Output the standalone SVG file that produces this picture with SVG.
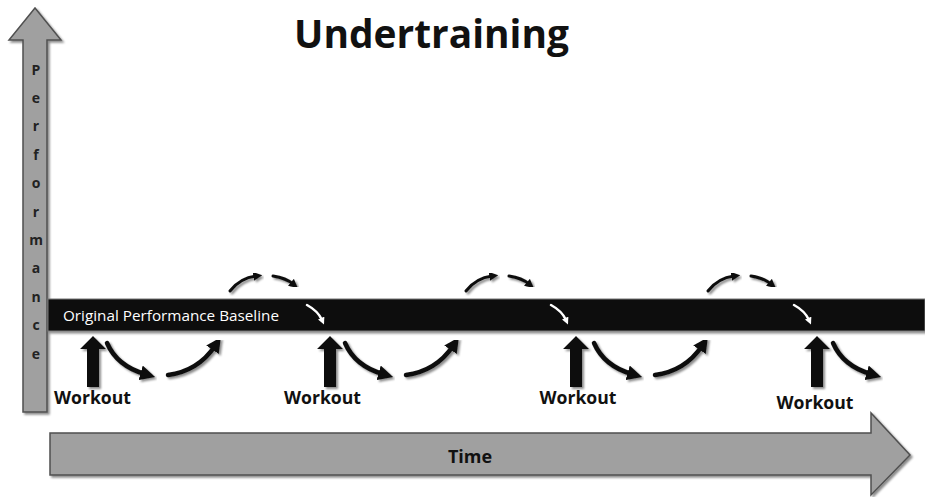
<svg xmlns="http://www.w3.org/2000/svg" width="925" height="497" viewBox="0 0 925 497">
<style>
.ax{fill:#a0a0a0;stroke:#505050;stroke-width:1.5;filter:url(#sh)}
.lt{font-family:"Open Sans","Liberation Sans",sans-serif;font-weight:bold;font-size:14px;fill:#222;text-anchor:middle}
.wk{font-family:"Open Sans","Liberation Sans",sans-serif;font-weight:bold;font-size:18px;fill:#111;text-anchor:middle}
.up{fill:#111;filter:url(#sh)}
.cb{fill:none;stroke:#111;stroke-width:4.5;stroke-linecap:round;filter:url(#sh)}
.cs{fill:none;stroke:#111;stroke-width:3;stroke-linecap:round;filter:url(#sh)}
.cw{fill:none;stroke:#fff;stroke-width:2.5;stroke-linecap:round}
</style>
<defs>
<filter id="sh" x="-20%" y="-20%" width="150%" height="150%">
<feDropShadow dx="2" dy="2" stdDeviation="1.3" flood-color="#000" flood-opacity="0.45"/>
</filter>
<marker id="ab" viewBox="0 0 10 10" refX="3" refY="5" markerUnits="userSpaceOnUse" markerWidth="15" markerHeight="15" orient="auto"><path d="M0,0 L10,5 L0,10 z" fill="#111"/></marker>
<marker id="as" viewBox="0 0 10 10" refX="3" refY="5" markerUnits="userSpaceOnUse" markerWidth="9" markerHeight="9" orient="auto"><path d="M0,0 L10,5 L0,10 z" fill="#111"/></marker>
<marker id="aw" viewBox="0 0 10 10" refX="3" refY="5" markerUnits="userSpaceOnUse" markerWidth="7" markerHeight="7" orient="auto"><path d="M0,0 L10,5 L0,10 z" fill="#fff"/></marker>
</defs>
<rect width="925" height="497" fill="#fff"/>

<g id="title"><text x="431.5" y="48" font-family="'Open Sans','Liberation Sans',sans-serif" font-weight="bold" font-size="40" fill="#111" text-anchor="middle" textLength="275" lengthAdjust="spacingAndGlyphs">Undertraining</text></g>

<g id="performance-axis">
<polygon class="ax" points="23,40 9,40 35,8 61,40 47,40 47,412 23,412"/>
<text class="lt" x="36" y="75">P</text>
<text class="lt" x="36" y="103">e</text>
<text class="lt" x="36" y="131">r</text>
<text class="lt" x="36" y="160">f</text>
<text class="lt" x="36" y="188">o</text>
<text class="lt" x="36" y="217">r</text>
<text class="lt" x="36" y="245">m</text>
<text class="lt" x="36" y="273">a</text>
<text class="lt" x="36" y="302">n</text>
<text class="lt" x="36" y="330">c</text>
<text class="lt" x="36" y="359">e</text>
</g>

<g id="time-axis">
<polygon class="ax" points="50,433 871,433 871,413 910,455 871,495 871,475 50,475"/>
<text x="470" y="463" font-family="'Open Sans','Liberation Sans',sans-serif" font-weight="bold" font-size="18" fill="#111" text-anchor="middle">Time</text>
</g>

<g id="baseline">
<rect x="48" y="299" width="877" height="32" fill="#111" stroke="#777" stroke-width="1" filter="url(#sh)"/>
<text x="63" y="321" font-family="'Open Sans','Liberation Sans',sans-serif" font-size="14" fill="#fff" textLength="216" lengthAdjust="spacingAndGlyphs">Original Performance Baseline</text>
</g>

<g id="workout1">
<polygon class="up" points="93,336 106,349 99,349 99,387 87,387 87,349 80,349"/>
<text class="wk" x="92.5" y="404" textLength="77" lengthAdjust="spacingAndGlyphs">Workout</text>
</g>
<g id="workout2">
<polygon class="up" points="330,336 343,349 336,349 336,387 324,387 324,349 317,349"/>
<text class="wk" x="322.5" y="404" textLength="77" lengthAdjust="spacingAndGlyphs">Workout</text>
</g>
<g id="workout3">
<polygon class="up" points="576,336 589,349 582,349 582,387 570,387 570,349 563,349"/>
<text class="wk" x="578" y="404" textLength="77" lengthAdjust="spacingAndGlyphs">Workout</text>
</g>
<g id="workout4">
<polygon class="up" points="817,336 830,349 823,349 823,387 811,387 811,349 804,349"/>
<text class="wk" x="815" y="409" textLength="77" lengthAdjust="spacingAndGlyphs">Workout</text>
</g>

<g id="connectors">
<g>
<path class="cb" marker-end="url(#ab)" d="M107,343 Q117,366 145,374"/>
<path class="cb" marker-end="url(#ab)" d="M168,375 Q198,371 215,346"/>
<path class="cs" marker-end="url(#as)" d="M230,291 Q240,278 256,276"/>
<path class="cs" marker-end="url(#as)" d="M273,276 Q286,278 293,284"/>
<path class="cw" marker-end="url(#aw)" d="M307,305 Q318,311 322,320"/>
</g>
<g transform="translate(238,0)">
<path class="cb" marker-end="url(#ab)" d="M107,343 Q117,366 145,374"/>
<path class="cb" marker-end="url(#ab)" d="M168,375 Q198,371 215,346"/>
</g>
<g transform="translate(236,0)">
<path class="cs" marker-end="url(#as)" d="M230,291 Q240,278 256,276"/>
<path class="cs" marker-end="url(#as)" d="M273,276 Q286,278 293,284"/>
</g>
<g transform="translate(244,0)">
<path class="cw" marker-end="url(#aw)" d="M307,305 Q318,311 322,320"/>
</g>
<g transform="translate(487,0)">
<path class="cb" marker-end="url(#ab)" d="M107,343 Q117,366 145,374"/>
<path class="cb" marker-end="url(#ab)" d="M168,375 Q198,371 215,346"/>
<path class="cw" marker-end="url(#aw)" d="M307,305 Q318,311 322,320"/>
</g>
<g transform="translate(478,0)">
<path class="cs" marker-end="url(#as)" d="M230,291 Q240,278 256,276"/>
<path class="cs" marker-end="url(#as)" d="M273,276 Q286,278 293,284"/>
</g>
<g transform="translate(726,0)">
<path class="cb" marker-end="url(#ab)" d="M107,343 Q117,366 145,374"/>
</g>
</g>
</svg>
